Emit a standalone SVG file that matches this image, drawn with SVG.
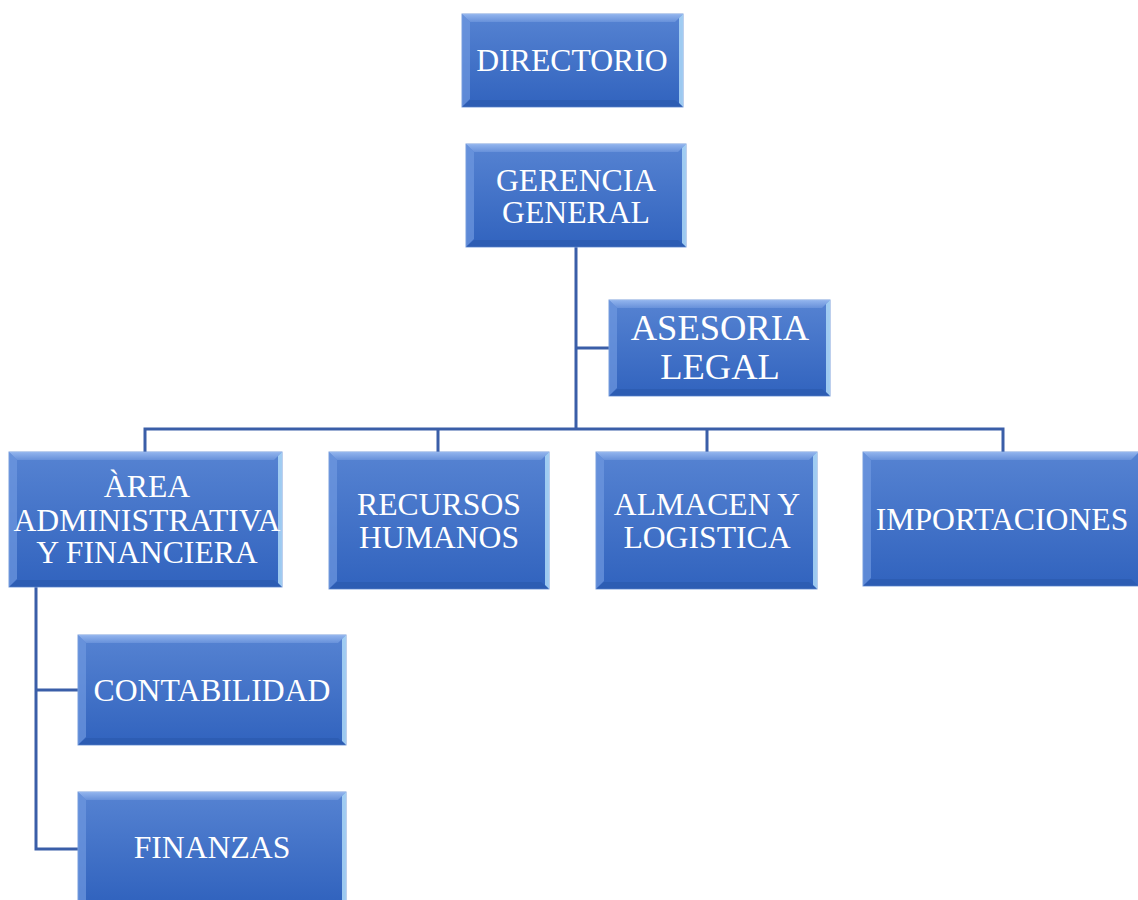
<svg xmlns="http://www.w3.org/2000/svg" width="1138" height="900" viewBox="0 0 1138 900">
<defs>
<linearGradient id="g" x1="0" y1="0" x2="0" y2="1">
<stop offset="0" stop-color="#5683d2"/>
<stop offset="1" stop-color="#3163be"/>
</linearGradient>
<linearGradient id="top" x1="0" y1="0" x2="0" y2="1">
<stop offset="0" stop-color="#9dbdf2"/>
<stop offset="1" stop-color="#6b94dc"/>
</linearGradient>
</defs>
<style>
.box{fill:url(#g);stroke:#7da0dc;stroke-width:1}
.tb{fill:url(#top);opacity:0.85}
.lb{fill:#6f98df;opacity:0.7}
.rb{fill:#a9d4f5;opacity:0.9}
.bb{fill:#2a58ab;opacity:0.6}
.t{font-family:"Liberation Serif","Times New Roman",serif;font-size:31.7px;fill:#ffffff;text-anchor:middle}
.c{fill:none;stroke:#3a5ea8;stroke-width:3}
</style>
<g id="connectors">
<path class="c" d="M576 247V429M576 348H609M145 452V429H1003V452M438 429V452M707 429V452"/>
<path class="c" d="M36 587V849H78M36 690H78"/>
</g>
<g id="directorio">
<rect class="box" x="462" y="14" width="221" height="93"/>
<polygon class="tb" points="462,14 683,14 675,22 470,22"/>
<polygon class="lb" points="462,14 470,22 470,99 462,107"/>
<polygon class="rb" points="683,14 683,107 679,103 679,18"/>
<polygon class="bb" points="462,107 683,107 675,100 470,100"/>
<text class="t" x="572" y="71">DIRECTORIO</text>
</g>
<g id="gerencia">
<rect class="box" x="466" y="144" width="220" height="103"/>
<polygon class="tb" points="466,144 686,144 678,152 474,152"/>
<polygon class="lb" points="466,144 474,152 474,239 466,247"/>
<polygon class="rb" points="686,144 686,247 682,243 682,148"/>
<polygon class="bb" points="466,247 686,247 678,240 474,240"/>
<text class="t" x="576" y="191">GERENCIA</text>
<text class="t" x="576" y="223">GENERAL</text>
</g>
<g id="asesoria">
<rect class="box" x="609" y="300" width="221" height="96"/>
<polygon class="tb" points="609,300 830,300 822,308 617,308"/>
<polygon class="lb" points="609,300 617,308 617,388 609,396"/>
<polygon class="rb" points="830,300 830,396 826,392 826,304"/>
<polygon class="bb" points="609,396 830,396 822,389 617,389"/>
<text class="t" x="720" y="340" style="font-size:36.5px">ASESORIA</text>
<text class="t" x="720" y="379" style="font-size:36.5px">LEGAL</text>
</g>
<g id="area">
<rect class="box" x="9" y="452" width="273" height="135"/>
<polygon class="tb" points="9,452 282,452 274,460 17,460"/>
<polygon class="lb" points="9,452 17,460 17,579 9,587"/>
<polygon class="rb" points="282,452 282,587 278,583 278,456"/>
<polygon class="bb" points="9,587 282,587 274,580 17,580"/>
<text class="t" x="147" y="497">ÀREA</text>
<text class="t" x="147" y="531">ADMINISTRATIVA</text>
<text class="t" x="147" y="563">Y FINANCIERA</text>
</g>
<g id="rrhh">
<rect class="box" x="329" y="452" width="220" height="137"/>
<polygon class="tb" points="329,452 549,452 541,460 337,460"/>
<polygon class="lb" points="329,452 337,460 337,581 329,589"/>
<polygon class="rb" points="549,452 549,589 545,585 545,456"/>
<polygon class="bb" points="329,589 549,589 541,582 337,582"/>
<text class="t" x="439" y="515">RECURSOS</text>
<text class="t" x="439" y="548">HUMANOS</text>
</g>
<g id="almacen">
<rect class="box" x="596" y="452" width="221" height="137"/>
<polygon class="tb" points="596,452 817,452 809,460 604,460"/>
<polygon class="lb" points="596,452 604,460 604,581 596,589"/>
<polygon class="rb" points="817,452 817,589 813,585 813,456"/>
<polygon class="bb" points="596,589 817,589 809,582 604,582"/>
<text class="t" x="707" y="515">ALMACEN Y</text>
<text class="t" x="707" y="548">LOGISTICA</text>
</g>
<g id="importaciones">
<rect class="box" x="863" y="452" width="276" height="134"/>
<polygon class="tb" points="863,452 1139,452 1131,460 871,460"/>
<polygon class="lb" points="863,452 871,460 871,578 863,586"/>
<polygon class="bb" points="863,586 1139,586 1131,579 871,579"/>
<text class="t" x="1002" y="530">IMPORTACIONES</text>
</g>
<g id="contabilidad">
<rect class="box" x="78" y="635" width="268" height="110"/>
<polygon class="tb" points="78,635 346,635 338,643 86,643"/>
<polygon class="lb" points="78,635 86,643 86,737 78,745"/>
<polygon class="rb" points="346,635 346,745 342,741 342,639"/>
<polygon class="bb" points="78,745 346,745 338,738 86,738"/>
<text class="t" x="212" y="701">CONTABILIDAD</text>
</g>
<g id="finanzas">
<rect class="box" x="78" y="792" width="268" height="110"/>
<polygon class="tb" points="78,792 346,792 338,800 86,800"/>
<polygon class="lb" points="78,792 86,800 86,902 78,902"/>
<polygon class="rb" points="346,792 346,902 342,902 342,796"/>
<text class="t" x="212" y="858">FINANZAS</text>
</g>
</svg>
